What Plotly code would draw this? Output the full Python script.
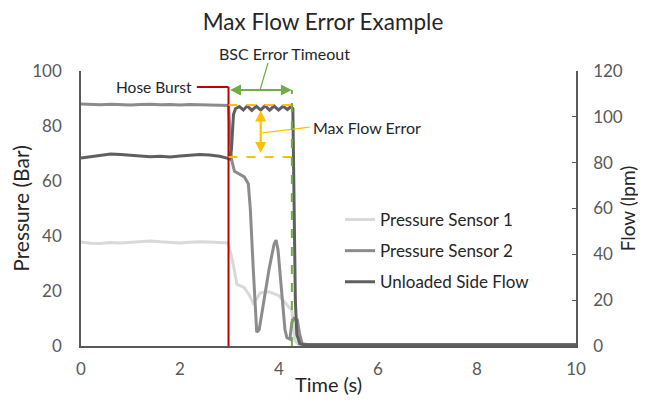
import plotly.graph_objects as go

# ---------------- data ----------------
ps1_t = [0, 0.2, 0.4, 0.6, 0.8, 1.0, 1.2, 1.4, 1.6, 1.8, 2.0, 2.2, 2.4, 2.6, 2.8, 2.97,
         3.05, 3.15, 3.3, 3.4, 3.48, 3.55, 3.62, 3.8, 4.0, 4.1, 4.19, 4.26, 4.32, 4.4,
         5, 6, 7, 8, 9, 10]
ps1_v = [37.8, 37.4, 37.3, 37.6, 37.5, 37.8, 37.9, 38.2, 37.9, 37.6, 37.5, 37.7, 37.9, 37.8, 37.6, 37.5,
         32, 22.5, 21.2, 18.5, 15.6, 17.2, 19.3, 19.7, 18.3, 16.2, 14.4, 13.0, 2.0, 0.3,
         0.3, 0.3, 0.3, 0.3, 0.3, 0.3]

ps2_t = [0, 0.2, 0.4, 0.6, 0.8, 1.0, 1.2, 1.4, 1.6, 1.8, 2.0, 2.2, 2.4, 2.6, 2.8, 2.98,
         3.01, 3.04, 3.1, 3.2, 3.3, 3.38, 3.42, 3.48, 3.55, 3.6, 3.7, 3.8, 3.9, 3.94, 3.98,
         4.05, 4.12, 4.16, 4.22, 4.26, 4.3, 4.37, 4.42, 4.47, 4.6, 5, 6, 7, 8, 9, 10]
ps2_v = [88.0, 87.8, 87.7, 87.9, 87.8, 87.6, 87.8, 87.9, 87.7, 87.8, 87.6, 87.8, 87.7, 87.6, 87.7, 87.5,
         78, 68, 63.5, 62.5, 61.5, 59, 50, 28, 5, 6, 17, 28, 37, 38.5, 35,
         20, 6, 3, 2.5, 8.5, 10, 9.5, 4, 0.8, 0.5, 0.5, 0.5, 0.5, 0.5, 0.5, 0.5]

flow_t = [0, 0.2, 0.4, 0.6, 0.8, 1.0, 1.2, 1.4, 1.6, 1.8, 2.0, 2.2, 2.4, 2.6, 2.8, 2.95, 3.0,
          3.04, 3.06, 3.08, 3.12, 3.2, 3.28, 3.36, 3.45, 3.54, 3.63, 3.72, 3.81, 3.9, 3.99,
          4.08, 4.17, 4.24, 4.28, 4.3, 4.33, 4.36, 4.42, 4.5, 5, 6, 7, 8, 9, 10]
flow_v = [82.0, 82.6, 83.2, 83.8, 83.6, 83.2, 82.9, 82.6, 82.8, 82.5, 82.9, 83.4, 83.6, 83.3, 82.8, 82.0, 81.6,
          86, 94, 101, 103.5, 104.5, 103.0, 104.8, 102.8, 104.6, 103.0, 104.8, 102.9, 104.7, 103.0,
          104.6, 103.2, 104.5, 103.5, 70, 20, 5, 1.0, 0.6, 0.6, 0.6, 0.6, 0.6, 0.6, 0.6]

series_names = ["Pressure Sensor 1", "Pressure Sensor 2", "Unloaded Side Flow"]
series_colors = ["#d9d9d9", "#8c8c8c", "#5f5f5f"]

x_ticks = [0, 2, 4, 6, 8, 10]
p_ticks = [0, 20, 40, 60, 80, 100]
f_ticks = [0, 20, 40, 60, 80, 100, 120]

# event markers (time in s, pressure in bar)
burst_t = 2.98
timeout_t = 4.26
flow_before_p = 68.7   # level of flow before burst, on pressure scale
flow_max_p = 87.6      # max flow level on pressure scale

# ---------------- figure ----------------
# page has 8px body margin; figure is laid out in its own coordinates
W, H = 638, 397
L, T = 73, 63
PW, PH = 495, 275

fig = go.Figure()
fig.add_trace(go.Scatter(x=ps1_t, y=ps1_v, name=series_names[0], mode="lines",
                         line=dict(color=series_colors[0], width=3), legendgroup="a"))
fig.add_trace(go.Scatter(x=ps2_t, y=ps2_v, name=series_names[1], mode="lines",
                         line=dict(color=series_colors[1], width=3), legendgroup="b"))
fig.add_trace(go.Scatter(x=flow_t, y=flow_v, name=series_names[2], mode="lines",
                         line=dict(color=series_colors[2], width=3), legendgroup="c",
                         yaxis="y2"))

font_family = "Lato, Carlito, Calibri, sans-serif"
tick_color = "#595959"
axis_color = "#595959"
txt_color = "#262626"


def px_x(px):  # page px -> paper x
    return (px - 8 - L) / PW


def px_y(py):  # page px -> paper y
    return (T + PH - (py - 8)) / PH


# Hose burst red line
fig.add_shape(type="line", xref="x", yref="y", x0=burst_t, x1=burst_t, y0=0, y1=94.2,
              line=dict(color="#c00000", width=2))
fig.add_shape(type="line", xref="x", yref="y", x0=2.34, x1=burst_t, y0=94.2, y1=94.2,
              line=dict(color="#c00000", width=2))
fig.add_annotation(x=2.29, y=94.2, xref="x", yref="y", text="Hose Burst", showarrow=False,
                   xanchor="right", yanchor="middle", font=dict(size=15.5, color=txt_color, family=font_family))

# Yellow dashed levels
for lvl in (flow_max_p, flow_before_p):
    fig.add_shape(type="line", xref="x", yref="y", x0=burst_t, x1=timeout_t, y0=lvl, y1=lvl,
                  line=dict(color="#ffc000", width=2, dash="dash"))
# Yellow double arrow
fig.add_annotation(x=3.63, y=85.6, ax=3.63, ay=69.6, xref="x", yref="y", axref="x", ayref="y",
                   text="", showarrow=True, arrowhead=2, startarrowhead=2, arrowside="end+start",
                   arrowcolor="#ffc000", arrowwidth=2.2, arrowsize=1)
# Max Flow Error label + leader
fig.add_shape(type="line", xref="x", yref="y", x0=3.66, x1=4.62, y0=77.5, y1=79.6,
              line=dict(color="#ffc000", width=1.2))
fig.add_annotation(x=4.64, y=79.6, xref="x", yref="y", text="Max Flow Error", showarrow=False,
                   xanchor="left", yanchor="middle", font=dict(size=16, color=txt_color, family=font_family))

# Green timeout arrow and dashed line
fig.add_annotation(x=timeout_t, y=93.1, ax=burst_t, ay=93.1, xref="x", yref="y", axref="x", ayref="y",
                   text="", showarrow=True, arrowhead=2, startarrowhead=2, arrowside="end+start",
                   arrowcolor="#70ad47", arrowwidth=2.2, arrowsize=1)
fig.add_shape(type="line", xref="x", yref="y", x0=timeout_t, x1=timeout_t, y0=0, y1=93.1,
              line=dict(color="#70ad47", width=2, dash="dash"))
# BSC label (above plot area, paper coords) + leader
fig.add_shape(type="line", xref="paper", yref="paper", x0=px_x(260), x1=px_x(268),
              y0=px_y(90), y1=px_y(63), line=dict(color="#70ad47", width=1.2))
fig.add_annotation(x=px_x(284), y=px_y(53), xref="paper", yref="paper",
                   text="BSC Error Timeout", showarrow=False, xanchor="center", yanchor="middle",
                   font=dict(size=16, color=txt_color, family=font_family))

fig.update_layout(
    width=W, height=H,
    margin=dict(l=L, r=W - L - PW, t=T, b=H - T - PH),
    paper_bgcolor="white", plot_bgcolor="white",
    font=dict(family=font_family, color=tick_color),
    title=dict(text="Max Flow Error Example", x=(323 - 8) / W, xanchor="center", y=1 - 14 / H,
               yanchor="middle", font=dict(size=22.5, color=txt_color, family=font_family)),
    showlegend=True,
    legend=dict(x=px_x(340), y=px_y(202), xanchor="left", yanchor="top",
                bgcolor="rgba(0,0,0,0)", tracegroupgap=6,
                font=dict(size=17, color=txt_color, family=font_family)),
    xaxis=dict(range=[0, 10], tickvals=x_ticks, showgrid=False, zeroline=False,
               showline=True, linecolor=axis_color, linewidth=1.5, ticks="",
               ticklabelstandoff=7, automargin=False,
               tickfont=dict(size=17, color=tick_color),
               title=dict(text="Time (s)", font=dict(size=20, color=txt_color), standoff=0)),
    yaxis=dict(range=[0, 100], tickvals=p_ticks, showgrid=False, zeroline=False,
               showline=True, linecolor=axis_color, linewidth=1.5, ticks="",
               ticklabelstandoff=14, automargin=False,
               tickfont=dict(size=17, color=tick_color),
               title=dict(text="Pressure (Bar)", font=dict(size=21, color=txt_color), standoff=4)),
    yaxis2=dict(range=[0, 120], tickvals=f_ticks, overlaying="y", side="right", showgrid=False,
                zeroline=False, showline=True, linecolor=axis_color, linewidth=1.5,
                ticks="inside", ticklen=4, tickcolor=axis_color, ticklabelstandoff=12,
                automargin=False,
                tickfont=dict(size=17, color=tick_color),
                title=dict(text="Flow (lpm)", font=dict(size=19, color=txt_color), standoff=0)),
)

fig.write_html("out.html")
